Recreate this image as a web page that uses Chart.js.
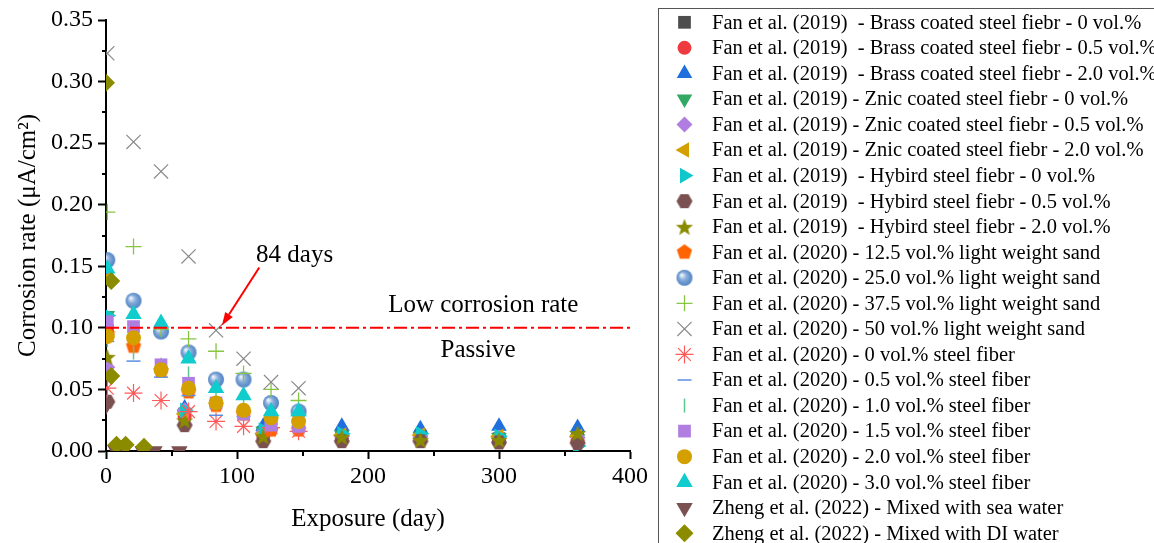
<!DOCTYPE html>
<html><head><meta charset="utf-8">
<script src="https://cdn.jsdelivr.net/npm/chart.js@4.4.1/dist/chart.umd.min.js"></script>
<style>html,body{margin:0;padding:0;background:#fff;overflow:hidden}#wrap{width:1154px;height:543px;position:relative}</style>
</head><body><div id="wrap"><canvas id="c"></canvas></div>
<script>
// ---------- data ----------
const xTickValues = [0, 100, 200, 300, 400];
const yTickValues = [0, 0.05, 0.10, 0.15, 0.20, 0.25, 0.30, 0.35];
const seriesLabels = [
  "Fan et al. (2019)  - Brass coated steel fiebr - 0 vol.%",
  "Fan et al. (2019)  - Brass coated steel fiebr - 0.5 vol.%",
  "Fan et al. (2019)  - Brass coated steel fiebr - 2.0 vol.%",
  "Fan et al. (2019) - Znic coated steel fiebr - 0 vol.%",
  "Fan et al. (2019) - Znic coated steel fiebr - 0.5 vol.%",
  "Fan et al. (2019) - Znic coated steel fiebr - 2.0 vol.%",
  "Fan et al. (2019)  - Hybird steel fiebr - 0 vol.%",
  "Fan et al. (2019)  - Hybird steel fiebr - 0.5 vol.%",
  "Fan et al. (2019)  - Hybird steel fiebr - 2.0 vol.%",
  "Fan et al. (2020) - 12.5 vol.% light weight sand",
  "Fan et al. (2020) - 25.0 vol.% light weight sand",
  "Fan et al. (2020) - 37.5 vol.% light weight sand",
  "Fan et al. (2020) - 50 vol.% light weight sand",
  "Fan et al. (2020) - 0 vol.% steel fiber",
  "Fan et al. (2020) - 0.5 vol.% steel fiber",
  "Fan et al. (2020) - 1.0 vol.% steel fiber",
  "Fan et al. (2020) - 1.5 vol.% steel fiber",
  "Fan et al. (2020) - 2.0 vol.% steel fiber",
  "Fan et al. (2020) - 3.0 vol.% steel fiber",
  "Zheng et al. (2022) - Mixed with sea water",
  "Zheng et al. (2022) - Mixed with DI water"
];
const days2019 = [1, 60, 120, 180, 240, 300, 360];
const days2020 = [1, 21, 42, 63, 84, 105, 126, 147];
const daysSea  = [0, 7, 14, 28, 37, 56];
const daysDI   = [0, 4, 4, 8, 15, 29];

const brass0   = [0.098, 0.030, 0.015, 0.012, 0.012, 0.010, 0.010];
const brass05  = [0.095, 0.028, 0.013, 0.011, 0.011, 0.009, 0.008];
const brass20  = [0.145, 0.035, 0.020, 0.020, 0.018, 0.020, 0.019];
const zinc0    = [0.110, 0.030, 0.016, 0.013, 0.012, 0.011, 0.010];
const zinc05   = [0.068, 0.033, 0.015, 0.012, 0.012, 0.011, 0.011];
const zinc20   = [0.140, 0.030, 0.014, 0.013, 0.013, 0.012, 0.012];
const hybrid0  = [0.110, 0.033, 0.017, 0.014, 0.014, 0.012, 0.004];
const hybrid05 = [0.040, 0.021, 0.008, 0.008, 0.008, 0.007, 0.0065];
const hybrid20 = [0.0765, 0.025, 0.012, 0.0116, 0.009, 0.009, 0.0146];

const lws125 = [0.095, 0.085, 0.065, 0.048, 0.037, 0.030, 0.017, 0.017];
const lws250 = [0.155, 0.122, 0.097, 0.080, 0.058, 0.058, 0.039, 0.032];
const lws375 = [0.194, 0.166, 0.099, 0.091, 0.081, 0.063, 0.050, 0.041];
const lws500 = [0.323, 0.251, 0.227, 0.158, 0.098, 0.075, 0.056, 0.051];
const sf00 = [0.051, 0.047, 0.041, 0.032, 0.024, 0.020, 0.019, 0.016];
const sf05 = [0.089, 0.073, 0.060, 0.045, 0.029, 0.028, 0.022, 0.020];
const sf10 = [0.090, 0.080, 0.070, 0.063, 0.045, 0.040, 0.030, 0.025];
const sf15 = [0.105, 0.101, 0.070, 0.055, 0.039, 0.030, 0.021, 0.020];
const sf20 = [0.093, 0.092, 0.066, 0.051, 0.039, 0.033, 0.027, 0.024];
const sf30 = [0.148, 0.111, 0.104, 0.075, 0.051, 0.045, 0.032, 0.032];

const seaWater = [0.037, 0.001, 0.001, 0.000, 0.000, 0.000];
const diWater  = [0.299, 0.138, 0.061, 0.005, 0.005, 0.0035];

// ---------- marker images ----------
function mk(size, fn){const c=document.createElement('canvas');c.width=c.height=size;const g=c.getContext('2d');fn(g,size/2);return c;}
function poly(g,c,n,r,rot,color){g.beginPath();for(let k=0;k<n;k++){const a=rot+k*2*Math.PI/n;const px=c+r*Math.cos(a),py=c+r*Math.sin(a);k?g.lineTo(px,py):g.moveTo(px,py);}g.closePath();g.fillStyle=color;g.fill();}
const pentagonImg = mk(18,(g,c)=>poly(g,c,5,8,-Math.PI/2,'#ff6400'));
const hexagonImg  = mk(18,(g,c)=>poly(g,c,6,8,0,'#7b5050'));
const starImg = mk(20,(g,c)=>{g.beginPath();for(let k=0;k<10;k++){const r=k%2?3.8:9;const a=-Math.PI/2+k*Math.PI/5;const px=c+r*Math.cos(a),py=c+1+r*Math.sin(a);k?g.lineTo(px,py):g.moveTo(px,py);}g.closePath();g.fillStyle='#8b8b00';g.fill();});
const sphereImg = mk(18,(g,c)=>{const gr=g.createRadialGradient(c-3,c-3,0.5,c,c,8);gr.addColorStop(0,'#f2f6fc');gr.addColorStop(0.45,'#88addb');gr.addColorStop(1,'#4f82c2');g.beginPath();g.arc(c,c,8,0,2*Math.PI);g.fillStyle=gr;g.fill();});

// ---------- styles ----------
const seriesStyles = [
  {ps:'rect', r:9, rot:0, fill:'#4d4d4d', line:'#4d4d4d', bw:0},
  {ps:'circle', r:7, rot:0, fill:'#ee3b40', line:'#ee3b40', bw:0},
  {ps:'triangle', r:9, rot:0, fill:'#1f6fdc', line:'#1f6fdc', bw:0},
  {ps:'triangle', r:9, rot:180, fill:'#33a865', line:'#33a865', bw:0},
  {ps:'rectRot', r:8, rot:0, fill:'#b07ee0', line:'#b07ee0', bw:0},
  {ps:'triangle', r:9, rot:-90, fill:'#d4a000', line:'#d4a000', bw:0},
  {ps:'triangle', r:9, rot:90, fill:'#10c8cc', line:'#10c8cc', bw:0},
  {ps:hexagonImg, r:8, rot:0, fill:'#7b5050', line:'#7b5050', bw:0},
  {ps:starImg, r:9, rot:0, fill:'#8b8b00', line:'#8b8b00', bw:0},
  {ps:pentagonImg, r:8, rot:0, fill:'#ff6400', line:'#ff6400', bw:0},
  {ps:sphereImg, r:8, rot:0, fill:'#6a9bd3', line:'#6a9bd3', bw:0},
  {ps:'cross', r:8, rot:0, fill:'#88c540', line:'#88c540', bw:1.3},
  {ps:'crossRot', r:10, rot:0, fill:'#8a8a8a', line:'#8a8a8a', bw:1.2},
  {ps:'star', r:9, rot:0, fill:'#ff5a5a', line:'#ff5a5a', bw:1.2},
  {ps:'line', r:7, rot:0, fill:'#5b8ee0', line:'#5b8ee0', bw:1.5},
  {ps:'line', r:7, rot:90, fill:'#5cc890', line:'#5cc890', bw:1.5},
  {ps:'rect', r:9, rot:0, fill:'#b07ee0', line:'#b07ee0', bw:0},
  {ps:'circle', r:7.5, rot:0, fill:'#d4a000', line:'#d4a000', bw:0},
  {ps:'triangle', r:9.5, rot:0, fill:'#10cccc', line:'#10cccc', bw:0},
  {ps:'triangle', r:9.5, rot:180, fill:'#7b5050', line:'#7b5050', bw:0},
  {ps:'rectRot', r:9, rot:0, fill:'#8b8b00', line:'#8b8b00', bw:0}
];
const seriesX = [days2019,days2019,days2019,days2019,days2019,days2019,days2019,days2019,days2019,
  days2020,days2020,days2020,days2020,days2020,days2020,days2020,days2020,days2020,days2020,daysSea,daysDI];
const seriesY = [brass0,brass05,brass20,zinc0,zinc05,zinc20,hybrid0,hybrid05,hybrid20,
  lws125,lws250,lws375,lws500,sf00,sf05,sf10,sf15,sf20,sf30,seaWater,diWater];

const datasets = seriesLabels.map((lab,i)=>{
  const s = seriesStyles[i];
  return {
    label: lab,
    data: seriesX[i].map((x,k)=>({x:x, y:seriesY[i][k]})),
    pointStyle: s.ps, pointRadius: s.r, pointHoverRadius: s.r, pointRotation: s.rot,
    backgroundColor: s.fill, borderColor: s.line, borderWidth: s.bw, pointBorderWidth: s.bw,
    showLine: false, order: -i
  };
});

const SERIF = '"Liberation Serif", "Times New Roman", serif';

// ---------- plugins ----------
const decorPlugin = {
  id:'decor',
  afterDraw(chart){
    const ctx = chart.ctx, xs = chart.scales.x, ys = chart.scales.y;
    ctx.save();
    // minor ticks
    ctx.strokeStyle='#000'; ctx.lineWidth=2;
    [50,150,250,350].forEach(v=>{const px=Math.round(xs.getPixelForValue(v));ctx.beginPath();ctx.moveTo(px,ys.bottom);ctx.lineTo(px,ys.bottom+5);ctx.stroke();});
    [0.025,0.075,0.125,0.175,0.225,0.275,0.325].forEach(v=>{const py=Math.round(ys.getPixelForValue(v));ctx.beginPath();ctx.moveTo(xs.left,py);ctx.lineTo(xs.left-4,py);ctx.stroke();});
    // reference line at 0.10
    const yl = ys.getPixelForValue(0.10);
    ctx.strokeStyle='#ff0000'; ctx.lineWidth=2; ctx.setLineDash([13,4,3,4]);
    ctx.beginPath(); ctx.moveTo(xs.getPixelForValue(0),yl); ctx.lineTo(xs.getPixelForValue(400),yl); ctx.stroke();
    ctx.setLineDash([]);
    // arrow
    const x1=xs.getPixelForValue(117), y1=ys.getPixelForValue(0.1490);
    const x2=xs.getPixelForValue(88.5), y2=ys.getPixelForValue(0.102);
    const ang=Math.atan2(y2-y1,x2-x1), L=13, W=4.5;
    const bx=x2-L*Math.cos(ang), by=y2-L*Math.sin(ang);
    ctx.beginPath(); ctx.moveTo(x1,y1); ctx.lineTo(bx,by); ctx.stroke();
    ctx.fillStyle='#ff0000'; ctx.beginPath(); ctx.moveTo(x2,y2);
    ctx.lineTo(bx+W*Math.sin(ang), by-W*Math.cos(ang)); ctx.lineTo(bx-W*Math.sin(ang), by+W*Math.cos(ang)); ctx.closePath(); ctx.fill();
    // texts
    ctx.fillStyle='#000'; ctx.font='25px '+SERIF; ctx.textAlign='center'; ctx.textBaseline='middle';
    ctx.fillText('84 days', xs.getPixelForValue(144), ys.getPixelForValue(0.159));
    ctx.fillText('Low corrosion rate', xs.getPixelForValue(288), ys.getPixelForValue(0.1185));
    ctx.fillText('Passive', xs.getPixelForValue(284), ys.getPixelForValue(0.082));
    // legend box
    ctx.strokeStyle='#555'; ctx.lineWidth=1;
    ctx.strokeRect(658.5, 8.5, 1000, 1000);
    ctx.font='20.5px '+SERIF; ctx.textAlign='left';
    chart.data.datasets.forEach((ds,i)=>{
      const y = 22.3 + i*25.55;
      ctx.fillStyle = ds.backgroundColor; ctx.strokeStyle = ds.borderColor; ctx.lineWidth = ds.borderWidth || 0;
      Chart.helpers.drawPoint(ctx, {pointStyle: ds.pointStyle, rotation: ds.pointRotation||0, radius: ds.pointRadius, borderWidth: ds.borderWidth||0}, 684.5, y);
      ctx.fillStyle='#000'; ctx.fillText(ds.label, 712, y+1);
    });
    ctx.restore();
  }
};

new Chart(document.getElementById('c'), {
  type: 'scatter',
  data: { datasets },
  options: {
    responsive: true, maintainAspectRatio: false, animation: false,
    layout: { padding: { left: 0, right: 524, top: 20, bottom: 0 } },
    plugins: { legend: { display: false }, tooltip: { enabled: false } },
    scales: {
      x: {
        type: 'linear', min: 0, max: 400,
        afterBuildTicks: s => { s.ticks = xTickValues.map(v=>({value:v})); },
        afterFit: s => { s.height = 92; },
        grid: { display: true, drawOnChartArea: false, drawTicks: true, tickLength: 8, tickWidth: 2, tickColor: '#000' },
        border: { display: true, color: '#000', width: 2 },
        ticks: { color: '#000', font: { family: SERIF, size: 24 }, padding: 3, maxRotation: 0, callback: v => String(v) },
        title: { display: true, text: 'Exposure (day)', color: '#000', font: { family: SERIF, size: 25 }, padding: { top: 0, bottom: 9 } }
      },
      y: {
        type: 'linear', min: 0, max: 0.35,
        afterBuildTicks: s => { s.ticks = yTickValues.map(v=>({value:v})); },
        afterFit: s => { s.width = 106; },
        grid: { display: true, drawOnChartArea: false, drawTicks: true, tickLength: 8, tickWidth: 2, tickColor: '#000' },
        border: { display: true, color: '#000', width: 2 },
        ticks: { color: '#000', font: { family: SERIF, size: 24 }, padding: 5, callback: v => Number(v).toFixed(2) },
        title: { display: true, text: 'Corrosion rate (μA/cm²)', color: '#000', font: { family: SERIF, size: 25 }, padding: { top: 13, bottom: 0 } }
      }
    }
  },
  plugins: [decorPlugin]
});
</script></body></html>
